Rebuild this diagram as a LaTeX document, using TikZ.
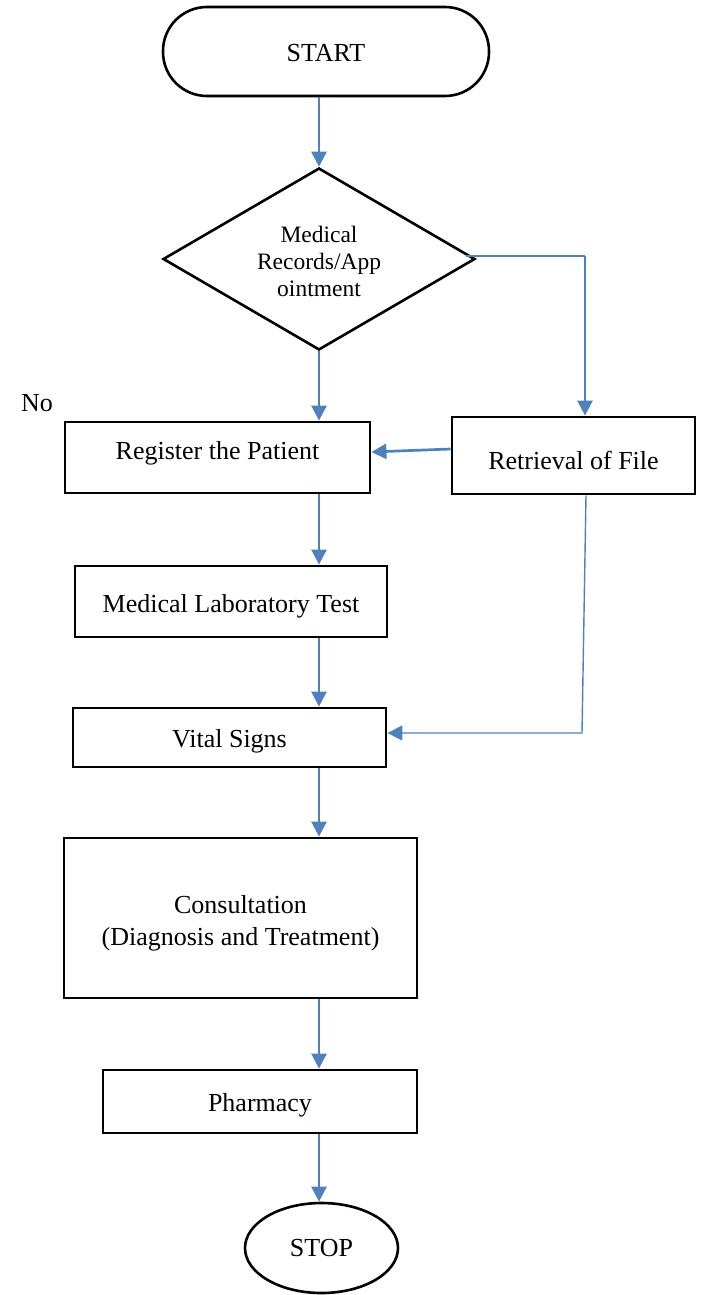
\documentclass[tikz,border=0pt]{standalone}
\usepackage{fontspec}
\setmainfont{Liberation Serif}
\usetikzlibrary{shapes.geometric,arrows.meta}
\definecolor{flowblue}{HTML}{4F81BD}
\newcommand{\lifttext}[2]{\raisebox{#1}[0pt][0pt]{#2}}
\begin{document}
\begin{tikzpicture}[x=1pt,y=-1pt,
  every node/.style={inner sep=0pt, align=center},
  mainfont/.style={font=\fontsize{26}{32}\selectfont},
  stepbox/.style={draw, line width=2.8pt, rectangle, mainfont},
  decbox/.style={draw, line width=2.6pt, diamond, font=\fontsize{23.5}{27}\selectfont},
  termbox/.style={draw, line width=2.6pt, mainfont},
  flow/.style={draw=flowblue, line width=2.7pt, -{Triangle[length=15pt,width=15pt]}},
  thinflow/.style={draw=flowblue, line width=1.4pt, -{Triangle[length=15pt,width=15pt]}}
]
\useasboundingbox (0,0) rectangle (705,1295);

\node[termbox, rectangle, rounded corners=44pt, minimum width=326pt, minimum height=89pt] (start) at (326,51.5) {\lifttext{-10.1pt}{START}};
\node[decbox, minimum width=312pt, minimum height=182pt] (dec) at (319,259) {\lifttext{16.3pt}{\begin{tabular}[t]{@{}c@{}}Medical\\Records/App\\ointment\end{tabular}}};
\node[mainfont] (no) at (37,403) {No};
\node[stepbox, minimum width=305pt, minimum height=71pt] (reg) at (217.5,457.5) {\lifttext{-2.1pt}{Register the Patient}};
\node[stepbox, minimum width=243pt, minimum height=77pt] (ret) at (573.5,455.5) {\lifttext{-14.1pt}{Retrieval of File}};
\node[stepbox, minimum width=312pt, minimum height=71pt] (lab) at (231,601.5) {\lifttext{-11.1pt}{Medical Laboratory Test}};
\node[stepbox, minimum width=313pt, minimum height=59pt] (vit) at (229.5,737.5) {\lifttext{-10.1pt}{Vital Signs}};
\node[stepbox, minimum width=353pt, minimum height=160pt] (con) at (240.5,918) {\lifttext{4.4pt}{\begin{tabular}[t]{@{}c@{}}Consultation\\(Diagnosis and Treatment)\end{tabular}}};
\node[stepbox, minimum width=314pt, minimum height=63pt] (pha) at (260,1101.5) {\lifttext{-10.1pt}{Pharmacy}};
\node[termbox, ellipse, minimum width=153pt, minimum height=90pt] (stop) at (321.5,1248) {\lifttext{-8.6pt}{STOP}};

\coordinate (ax) at (319,0);
\coordinate (k1) at (585,256);
\coordinate (k2) at (582,733);

\draw[flow] (ax |- start.south) -- (dec.north);
\draw[flow] (dec.south) -- (ax |- reg.north);
\draw[flow] (ax |- reg.south) -- (ax |- lab.north);
\draw[flow] (ax |- lab.south) -- (ax |- vit.north);
\draw[flow] (ax |- vit.south) -- (ax |- con.north);
\draw[flow] (ax |- con.south) -- (ax |- pha.north);
\draw[flow] (ax |- pha.south) -- (ax |- stop.north);
\draw[draw=flowblue, line width=1.4pt] ([xshift=-10pt]dec.east |- k1) -- (k1);
\draw[flow] (k1) -- (k1 |- ret.north);
\draw[flow] ([yshift=6.5pt]ret.west) -- ([yshift=5.5pt]reg.east);
\draw[thinflow] ([xshift=12.5pt]ret.south) -- (k2) -- (k2 -| vit.east);
\end{tikzpicture}
\end{document}
